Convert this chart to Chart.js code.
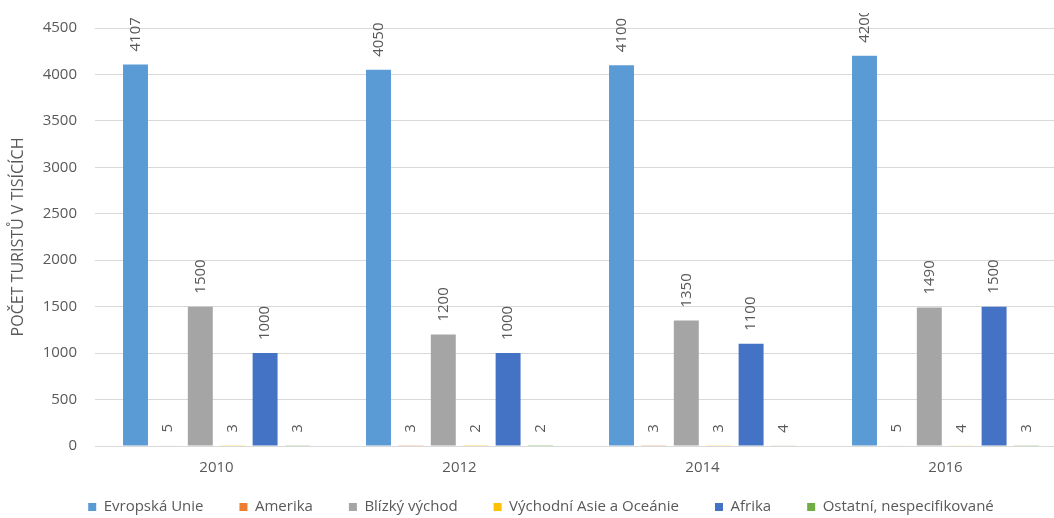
<!DOCTYPE html>
<html>
<head>
<meta charset="utf-8">
<script src="https://cdn.jsdelivr.net/npm/chart.js@4.4.1/dist/chart.umd.min.js"></script>
<style>
  html, body { margin: 0; padding: 0; background: #ffffff; overflow: hidden; }
  #wrap { position: absolute; left: 0; top: 0; width: 1067px; height: 518px; }
</style>
</head>
<body>
<div id="wrap"><canvas id="c"></canvas></div>
<script>
const categories = ["2010", "2012", "2014", "2016"];
const seriesNames = ["Evropská Unie", "Amerika", "Blízký východ", "Východní Asie a Oceánie", "Afrika", "Ostatní, nespecifikované"];
const evropskaUnie = [4107, 4050, 4100, 4200];
const amerika = [5, 3, 3, 5];
const blizkyVychod = [1500, 1200, 1350, 1490];
const vychodniAsie = [3, 2, 3, 4];
const afrika = [1000, 1000, 1100, 1500];
const ostatni = [3, 2, 4, 3];
const yTicks = [0, 500, 1000, 1500, 2000, 2500, 3000, 3500, 4000, 4500];
const yTitle = "POČET TURISTŮ V TISÍCÍCH";

const colors = ["#5B9BD5", "#ED7D31", "#A5A5A5", "#FFC000", "#4472C4", "#70AD47"];
const seriesValues = [evropskaUnie, amerika, blizkyVychod, vychodniAsie, afrika, ostatni];
const textColor = "#595959";
const FONT = "'Open Sans', 'Liberation Sans', sans-serif";
const LEGEND_PAD = 36;
const LEGEND_FONT = 15;

const valueLabels = {
  id: "valueLabels",
  afterDatasetsDraw(chart) {
    const ctx = chart.ctx;
    ctx.save();
    ctx.beginPath();
    ctx.rect(0, 13, chart.width, chart.height);
    ctx.clip();
    ctx.font = "15px " + FONT;
    ctx.fillStyle = textColor;
    ctx.textAlign = "left";
    ctx.textBaseline = "middle";
    chart.data.datasets.forEach((ds, di) => {
      const meta = chart.getDatasetMeta(di);
      meta.data.forEach((bar, i) => {
        ctx.save();
        ctx.translate(bar.x, bar.y - 13);
        ctx.rotate(-Math.PI / 2);
        ctx.fillText(String(ds.data[i]), 0, 0);
        ctx.restore();
      });
    });
    ctx.restore();
  }
};

const legendPlace = {
  id: "legendPlace",
  afterLayout(chart) {
    const lg = chart.legend;
    if (!lg) return;
    const w = lg.right - lg.left;
    const cx = 541;
    lg.left = cx - w / 2;
    lg.right = cx + w / 2;
    lg.top = 507 - LEGEND_FONT / 2 - LEGEND_PAD;
    lg.bottom = chart.height;
  }
};

new Chart(document.getElementById("c"), {
  type: "bar",
  data: {
    labels: categories,
    datasets: seriesNames.map((name, k) => ({
      label: name,
      data: seriesValues[k],
      backgroundColor: colors[k],
      borderWidth: 0,
      categoryPercentage: 0.8,
      barPercentage: 0.77
    }))
  },
  options: {
    responsive: true,
    maintainAspectRatio: false,
    animation: false,
    devicePixelRatio: 1,
    layout: { padding: { top: 28, left: 0, right: 0, bottom: 0 } },
    plugins: {
      tooltip: { enabled: false },
      legend: {
        position: "bottom",
        align: "center",
        maxHeight: 20,
        labels: {
          boxWidth: 8,
          boxHeight: 8,
          padding: LEGEND_PAD,
          color: textColor,
          font: { family: FONT, size: LEGEND_FONT }
        }
      }
    },
    scales: {
      x: {
        grid: { display: false, drawTicks: false },
        border: { display: true, color: "#d9d9d9", width: 1 },
        ticks: { color: textColor, font: { family: FONT, size: 15 }, padding: 13 },
        afterFit(s) { s.height = 518 - s.chart.legend.height - 446; }
      },
      y: {
        min: 0,
        max: 4500,
        afterBuildTicks(s) { s.ticks = yTicks.map(v => ({ value: v })); },
        grid: { color: "#d9d9d9", lineWidth: 1, drawTicks: false },
        border: { display: false },
        ticks: {
          color: textColor,
          font: { family: FONT, size: 15 },
          padding: 18,
          callback: (v) => String(v)
        },
        title: {
          display: true,
          text: yTitle,
          color: textColor,
          font: { family: FONT, size: 16 },
          padding: { top: 9, bottom: 0 }
        },
        afterFit(s) { s.width = 95; }
      }
    }
  },
  plugins: [valueLabels, legendPlace]
});
</script>
</body>
</html>
